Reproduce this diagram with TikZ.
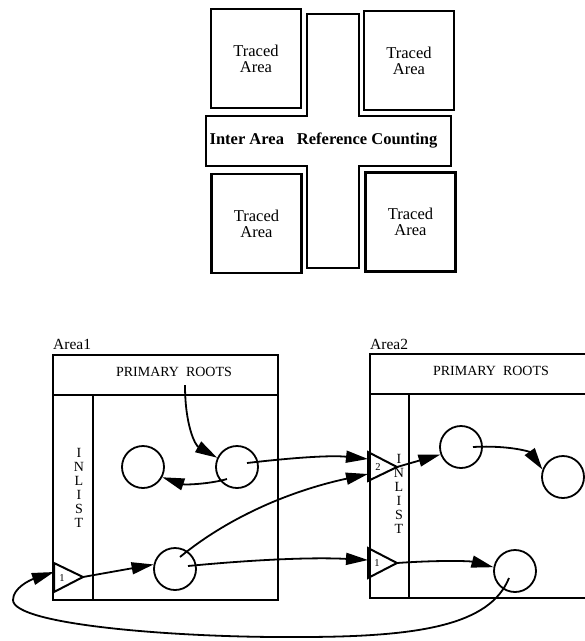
\documentclass[tikz,border=0pt]{standalone}
\usepackage{fontspec}
\setmainfont{Liberation Serif}
\usetikzlibrary{arrows.meta}
\begin{document}
\begin{tikzpicture}[x=1pt,y=-1pt,
	area/.style={draw,line width=2.6pt,minimum width=90pt,minimum height=99pt,align=center,font=\fontsize{16.5}{16}\selectfont},
	ball/.style={draw,circle,line width=1.8pt,minimum size=42pt,inner sep=0pt},
	box/.style={line width=2pt},
	ptr/.style={line width=1.8pt,-{Triangle[length=22pt,width=12pt]}},
	num/.style={font=\fontsize{10.5}{10.5}\selectfont,inner sep=0pt},
	inl/.style={align=center,font=\fontsize{14}{14}\selectfont,inner sep=0pt},
	roots/.style={font=\fontsize{14}{14}\selectfont}]
	
	\useasboundingbox (0,0) rectangle (585,641);
	
	\node[area] (TA1) at (256,58.5) {Traced\\Area};
	\node[area] (TA2) at (409,60.5) {Traced\\Area};
	\node[area] (TA3) at (256.5,223.5) {Traced\\Area};
	\node[area] (TA4) at (410.5,222) {Traced\\Area};
	\draw[line width=2.6pt] (307,14) -- (359,14) -- (359,116) -- (451,116) -- (451,166) -- (359,166)
		-- (359,268) -- (307,268) -- (307,166) -- (206,166) -- (206,116) -- (307,116) -- cycle;
	\node[font=\fontsize{16.5}{16}\selectfont\bfseries] (IRC) at (323.5,141) {Inter Area\hspace{13pt}Reference Counting};
	
	\node[anchor=base west,inner sep=0pt,font=\fontsize{15.5}{16}\selectfont] (L1) at (53,349) {Area1};
	\draw[box] (53,355) rectangle (278,600);
	\draw[box] (53,395) -- (278,395);
	\draw[box] (93,395) -- (93,600);
	\node[roots] (PR1) at (174,372) {PRIMARY\ \ ROOTS};
	\node[inl] (IL1) at (79,488) {I\\N\\L\\I\\S\\T};
	
	\node[anchor=base west,inner sep=0pt,font=\fontsize{15.5}{16}\selectfont] (L2) at (370,349) {Area2};
	\draw[box] (370,354) rectangle (620,598);
	\draw[box] (370,394) -- (620,394);
	\draw[box] (409,394) -- (409,598);
	\node[roots] (PR2) at (491,371) {PRIMARY\ \ ROOTS};
	\node[inl] (IL2) at (399,494) {I\\N\\L\\I\\S\\T};
	
	\draw[box] (54,563) -- (83,577) -- (54,592) -- cycle;
	\node[num] (N1a) at (62,578) {1};
	\draw[box] (368,452) -- (397,467) -- (368,481) -- cycle;
	\node[num] (N2) at (378,467) {2};
	\draw[box] (368,548) -- (397,563) -- (368,578) -- cycle;
	\node[num] (N1b) at (377,563) {1};
	\coordinate (T1a) at (83,577);
	\coordinate (B1a) at (54,572);
	\coordinate (T2) at (397,467);
	\coordinate (T2in) at (368,459);
	\coordinate (T2in') at (368,474);
	\coordinate (T1b) at (397,563);
	\coordinate (T1bin) at (368,560);
	\coordinate (R1) at (185,385);
	
	\node[ball] (A) at (143,467) {};
	\node[ball] (B) at (237,467) {};
	\node[ball] (C) at (175,569) {};
	\node[ball] (D) at (461,447) {};
	\node[ball] (E) at (563,477) {};
	\node[ball] (F) at (515,571) {};
	
	\draw[ptr] (R1) .. controls (185,425) and (195,445) .. (B.155);
	\draw[ptr] ([shift={(-10,12)}]B.center) .. controls (210,484) and (185,485) .. (A.-28);
	\draw[ptr] ([shift={(10,-4)}]B.center) .. controls (290,458) and (330,455) .. (T2in);
	\draw[ptr] ([shift={(5,-12)}]C.center) .. controls (225,520) and (285,492) .. (T2in');
	\draw[ptr] ([shift={(13,-3)}]C.center) .. controls (250,560) and (310,557) .. (T1bin);
	\draw[ptr] (T1a) -- (C.168);
	\draw[ptr] (T2) -- (D.200);
	\draw[ptr] ([shift={(12,0)}]D.center) .. controls (510,445) and (530,452) .. (E.160);
	\draw[ptr] (T1b) .. controls (440,560) and (470,561) .. (F.170);
	\draw[ptr] ([shift={(-6,7)}]F.center) .. controls (490,625) and (420,637) .. (300,637)
		.. controls (180,638) and (13,625) .. (13,600) .. controls (13,588) and (30,580) .. (B1a);
\end{tikzpicture}
\end{document}
